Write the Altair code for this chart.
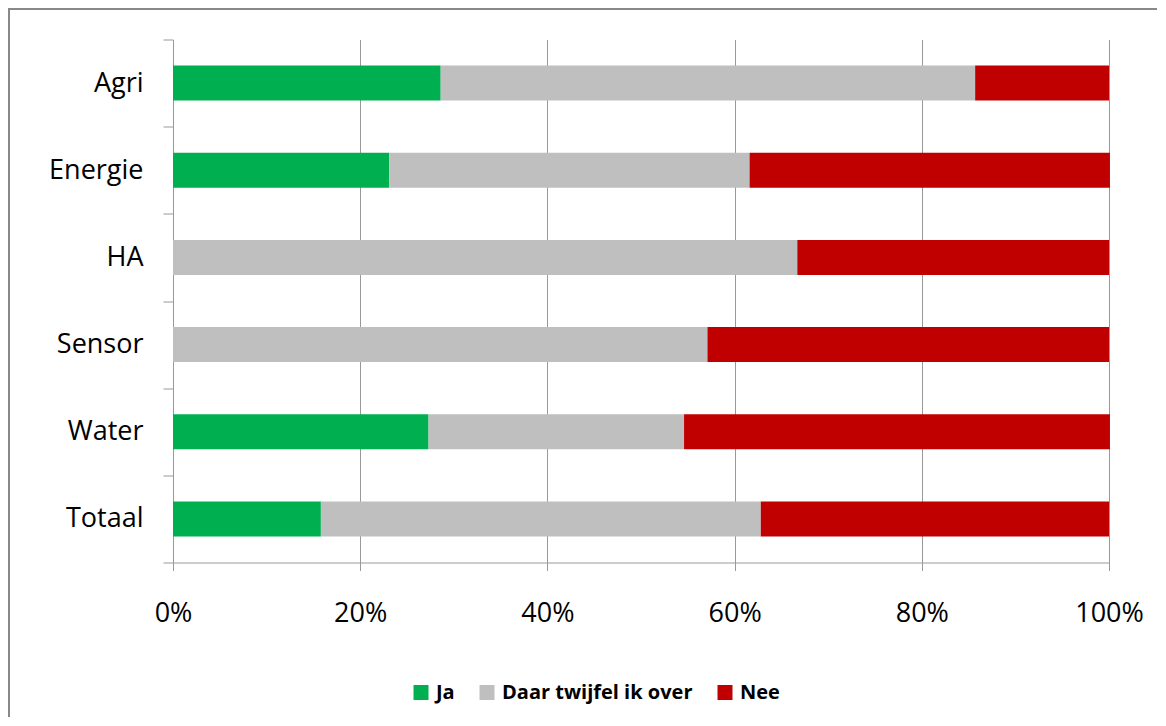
import altair as alt
import pandas as pd

categories = ["Agri", "Energie", "HA", "Sensor", "Water", "Totaal"]
answers = ["Ja", "Daar twijfel ik over", "Nee"]
ja = [0.286, 0.231, 0.0, 0.0, 0.273, 0.158]
twijfel = [0.571, 0.385, 0.667, 0.571, 0.273, 0.470]
nee = [0.143, 0.385, 0.333, 0.429, 0.455, 0.372]
colors = ["#00B050", "#BFBFBF", "#C00000"]
ticks = [0, 0.2, 0.4, 0.6, 0.8, 1.0]

rows = []
for i, c in enumerate(categories):
    for k, (a, vals) in enumerate(zip(answers, [ja, twijfel, nee])):
        rows.append({"cat": c, "answer": a, "order": k, "value": vals[i]})
df = pd.DataFrame(rows)

W, H = 936, 523
FONT = "Open Sans"

bars = alt.Chart(df).mark_bar(size=35).encode(
    y=alt.Y("cat:N", sort=categories, title=None,
            scale=alt.Scale(paddingInner=0, paddingOuter=0),
            axis=alt.Axis(tickBand="extent", tickSize=10, tickColor="#999999",
                          domainColor="#999999", labelFont=FONT, labelFontSize=27,
                          labelColor="#000000", labelPadding=20, grid=False)),
    x=alt.X("value:Q", stack="zero", title=None,
            scale=alt.Scale(domain=[0, 1], nice=False),
            axis=alt.Axis(values=ticks, format=".0%", tickSize=8, tickColor="#999999",
                          domainColor="#999999", gridColor="#999999", grid=True,
                          labelFont=FONT, labelFontSize=27, labelColor="#000000",
                          labelPadding=30, labelFlush=False)),
    color=alt.Color("answer:N", sort=answers,
                    scale=alt.Scale(domain=answers, range=colors),
                    legend=alt.Legend(orient="none", legendX=238, legendY=643,
                                      direction="horizontal", columns=3, title=None,
                                      symbolType="square", symbolSize=225,
                                      symbolStrokeWidth=0, labelFont=FONT,
                                      labelFontSize=20, labelFontWeight="bold",
                                      labelColor="#000000", labelOffset=5,
                                      labelLimit=500, columnPadding=22, padding=0)),
    order=alt.Order("order:Q"),
)

border = alt.Chart(alt.Data(values=[{}])).mark_rect(
    filled=False, stroke="#888888", strokeWidth=2
).encode(
    x=alt.value(-164), x2=alt.value(W + 200),
    y=alt.value(-30.5), y2=alt.value(H + 300),
)

chart = alt.layer(bars, border).properties(
    width=W, height=H,
    padding={"left": 165, "top": 31.5, "right": 48, "bottom": 154},
    autosize=alt.AutoSizeParams(type="none"),
).configure_view(stroke=None)

chart.save("out.html", embed_options={"renderer": "svg", "actions": False})
